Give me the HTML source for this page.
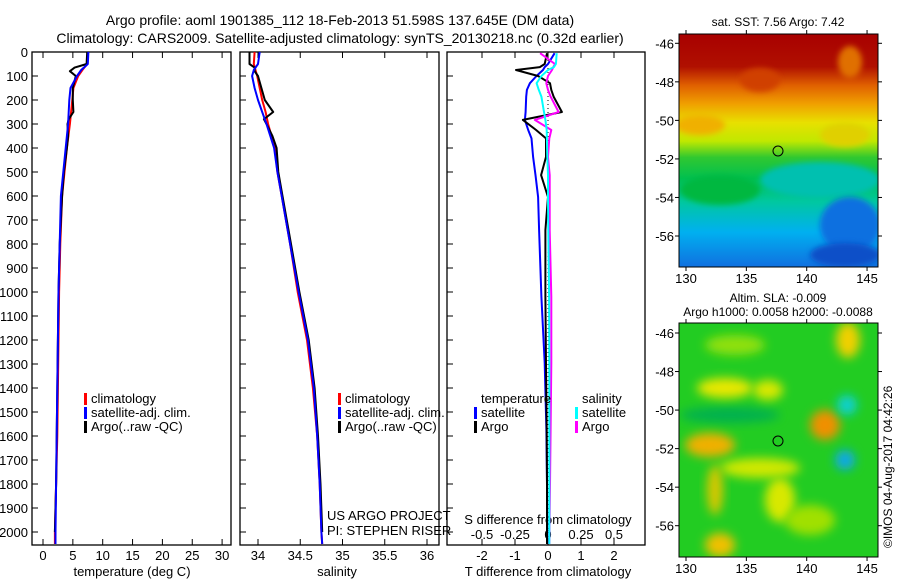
<!DOCTYPE html>
<html><head><meta charset="utf-8"><style>
html,body{margin:0;padding:0;background:#fff;}
svg{display:block;font-family:"Liberation Sans",sans-serif;}
</style></head><body>
<svg id="c" width="900" height="580" viewBox="0 0 900 580">
<defs>
<filter id="bl" x="-50%" y="-50%" width="200%" height="200%"><feGaussianBlur stdDeviation="5"/></filter>
<filter id="bl2" x="-50%" y="-50%" width="200%" height="200%"><feGaussianBlur stdDeviation="3"/></filter>
<clipPath id="m1"><rect x="679" y="34" width="199" height="233"/></clipPath>
<clipPath id="m2"><rect x="679" y="323" width="199" height="234"/></clipPath>
<linearGradient id="sst" x1="0" y1="0" x2="0" y2="1">
<stop offset="0" stop-color="#a80000"/><stop offset="0.14" stop-color="#b01000"/>
<stop offset="0.22" stop-color="#e06000"/><stop offset="0.30" stop-color="#f0a000"/>
<stop offset="0.38" stop-color="#e8e000"/><stop offset="0.46" stop-color="#c0e800"/>
<stop offset="0.53" stop-color="#30c830"/><stop offset="0.62" stop-color="#00c050"/>
<stop offset="0.72" stop-color="#00c8a0"/><stop offset="0.85" stop-color="#00b0f0"/>
<stop offset="1" stop-color="#1070e0"/>
</linearGradient>
</defs>
<text x="340" y="25" font-size="14" text-anchor="middle">Argo profile: aoml 1901385_112 18-Feb-2013 51.598S 137.645E (DM data)</text>
<text x="340" y="43" font-size="14" text-anchor="middle">Climatology: CARS2009. Satellite-adjusted climatology: synTS_20130218.nc (0.32d earlier)</text>
<g id="g"></g>
<g clip-path="url(#m1)">
<rect x="679" y="34" width="199" height="233" fill="url(#sst)"/>
<ellipse cx="700" cy="125" rx="25" ry="10" fill="#f0b000" filter="url(#bl2)"/>
<ellipse cx="845" cy="135" rx="25" ry="12" fill="#e0d000" filter="url(#bl2)"/>
<ellipse cx="820" cy="180" rx="60" ry="18" fill="#00c0b0" filter="url(#bl2)"/>
<ellipse cx="850" cy="225" rx="30" ry="28" fill="#1070e0" filter="url(#bl2)"/>
<ellipse cx="845" cy="255" rx="35" ry="12" fill="#0850c8" filter="url(#bl2)"/>
<ellipse cx="720" cy="190" rx="40" ry="15" fill="#00b840" filter="url(#bl2)"/>
<ellipse cx="760" cy="80" rx="20" ry="12" fill="#d04000" filter="url(#bl2)"/>
<ellipse cx="850" cy="62" rx="12" ry="16" fill="#e07000" filter="url(#bl2)"/>
<circle cx="778" cy="151" r="5" fill="none" stroke="#000"/>
</g>
<rect x="679" y="34" width="199" height="233" fill="none" stroke="#000"/>
<text x="778" y="26" font-size="12" text-anchor="middle">sat. SST: 7.56 Argo: 7.42</text>
<g clip-path="url(#m2)">
<rect x="679" y="323" width="199" height="234" fill="#22cc22"/>
<ellipse cx="730" cy="415" rx="50" ry="8" fill="#00b050" filter="url(#bl)"/>
<ellipse cx="735" cy="345" rx="30" ry="10" fill="#90e010" filter="url(#bl)"/>
<ellipse cx="725" cy="388" rx="28" ry="10" fill="#e8e800" filter="url(#bl)"/>
<ellipse cx="768" cy="390" rx="15" ry="10" fill="#d8e800" filter="url(#bl)"/>
<ellipse cx="710" cy="445" rx="25" ry="12" fill="#f0b000" filter="url(#bl)"/>
<ellipse cx="760" cy="468" rx="40" ry="10" fill="#d0e800" filter="url(#bl)"/>
<ellipse cx="715" cy="490" rx="8" ry="25" fill="#d8c800" filter="url(#bl)"/>
<ellipse cx="780" cy="500" rx="15" ry="22" fill="#d8e800" filter="url(#bl)"/>
<ellipse cx="720" cy="545" rx="15" ry="12" fill="#f0c000" filter="url(#bl)"/>
<ellipse cx="825" cy="425" rx="15" ry="15" fill="#f09000" filter="url(#bl)"/>
<ellipse cx="848" cy="340" rx="12" ry="18" fill="#f0d000" filter="url(#bl)"/>
<ellipse cx="847" cy="405" rx="10" ry="10" fill="#10d0d0" filter="url(#bl)"/>
<ellipse cx="845" cy="460" rx="10" ry="10" fill="#10a8e8" filter="url(#bl)"/>
<ellipse cx="810" cy="520" rx="25" ry="15" fill="#a0e000" filter="url(#bl)"/>
<circle cx="778" cy="441" r="5" fill="none" stroke="#000"/>
</g>
<rect x="679" y="323" width="199" height="234" fill="none" stroke="#000"/>
<text x="778" y="302" font-size="12" text-anchor="middle">Altim. SLA: -0.009</text>
<text x="778" y="316" font-size="12" text-anchor="middle">Argo h1000: 0.0058 h2000: -0.0088</text>
<text transform="translate(892,548) rotate(-90)" font-size="12">©IMOS 04-Aug-2017 04:42:26</text>
</svg>
<script>
var depthTicks=[0,100,200,300,400,500,600,700,800,900,1000,1100,1200,1300,1400,1500,1600,1700,1800,1900,2000];
var tTicks=[0,5,10,15,20,25,30];
var sTicks=[34,34.5,35,35.5,36];
var dTTicks=[-2,-1,0,1,2];
var dSTicks=[-0.5,-0.25,0,0.25,0.5];
var dSTickLabels=["-0.5","-0.25","0","0.25","0.5"];
var profDepth=[0,50,75,100,150,200,250,300,400,500,600,800,1000,1200,1400,1600,1800,2000,2050];
var tClim=[7.5,7.4,6.6,5.9,5.1,4.9,4.7,4.5,4.0,3.6,3.2,2.9,2.7,2.6,2.5,2.4,2.2,2.0,2.0];
var tSat=[7.6,7.5,6.4,5.7,4.6,4.4,4.3,4.2,3.8,3.4,3.0,2.8,2.6,2.5,2.4,2.3,2.2,2.1,2.1];
var argoDepth=[0,50,65,80,100,150,200,250,280,300,350,400,500,600,800,1000,1200,1400,1600,1800,2000];
var tArgo=[7.4,7.3,5.3,4.5,5.5,5.0,5.0,5.1,4.3,4.1,4.2,4.0,3.5,3.2,2.8,2.6,2.5,2.4,2.3,2.2,2.0];
var sClim=[33.96,33.95,33.97,33.99,34.02,34.05,34.09,34.12,34.2,34.23,34.28,34.38,34.47,34.58,34.65,34.7,34.73,34.75,34.76];
var sSat=[34.02,34.0,33.95,33.93,33.96,34.0,34.05,34.1,34.19,34.23,34.28,34.38,34.48,34.59,34.66,34.7,34.73,34.75,34.76];
var sArgo=[33.9,33.9,33.96,33.96,34.0,34.04,34.08,34.18,34.07,34.1,34.17,34.22,34.24,34.29,34.39,34.49,34.6,34.67,34.71,34.74,34.76];
var diffDepth=[5,50,63,75,100,130,158,186,250,283,325,360,437,513,604,742,1020,1296,1575,1800,2050];
var dTSat=[0.2,0.0,-0.1,-0.15,-0.35,-0.55,-0.64,-0.66,-0.68,-0.7,-0.6,-0.5,-0.45,-0.38,-0.3,-0.27,-0.2,-0.1,-0.05,-0.03,-0.02];
var dTArgo=[-0.03,-0.1,-0.25,-0.97,-0.3,0.06,0.1,0.17,0.42,-0.76,-0.36,-0.06,-0.06,-0.21,0.0,-0.08,-0.08,-0.06,-0.04,-0.03,-0.03];
var dSSat=[0.066,0.06,0.045,0.0,-0.05,-0.086,-0.07,-0.05,-0.03,-0.02,-0.01,-0.008,-0.005,0.0,0.0,0.002,0.008,0.01,0.01,0.01,0.01];
var dSArgo=[-0.06,0.053,0.04,0.03,0.0,-0.013,0.0,0.02,0.08,-0.1,0.025,0.01,0.0,0.013,0.013,0.013,0.025,0.025,0.02,0.015,0.01];
var lonTicks=[130,135,140,145];
var latTicks=[-46,-48,-50,-52,-54,-56];

var NS='http://www.w3.org/2000/svg';
var G=document.getElementById('g');
function mk(t,a,p){var e=document.createElementNS(NS,t);for(var k in a)e.setAttribute(k,a[k]);(p||G).appendChild(e);return e;}
function yD(d){return 52+d*0.24;}
var P=[{x0:32,x1:231,f:function(v){return 43+v*5.97;}},{x0:240,x1:439,f:function(v){return 258+(v-34)*84.5;}},{x0:447,x1:645,f:function(v){return 548+v*33;}}];
var fS=function(v){return 548+v*132;};
var names=['temperature','salinity','difference'];
P.forEach(function(p,i){
  var r=mk('rect',{x:p.x0,y:52,width:p.x1-p.x0,height:493,fill:'none',stroke:'#000','stroke-width':1.3});
  
  
  depthTicks.forEach(function(d){
    var l=mk('line',{x1:p.x0,x2:p.x0+6,y1:yD(d),y2:yD(d),stroke:'#000'});
    
    
  });
});
depthTicks.forEach(function(d){
  var t=mk('text',{x:28,y:yD(d)+5,'font-size':13,'text-anchor':'end'});t.textContent=d;
  
  
});
function xt(vals,labels,f,y,top,bot){
  vals.forEach(function(v,k){
    var x=f(v);
    var l1=mk('line',{x1:x,x2:x,y1:top,y2:top+6,stroke:'#000'});
    
    
    var l2=mk('line',{x1:x,x2:x,y1:bot-6,y2:bot,stroke:'#000'});
    
    
    var t=mk('text',{x:x,y:y,'font-size':13,'text-anchor':'middle'});t.textContent=labels[k];
    
    
  });
}
xt(tTicks,tTicks,P[0].f,560,52,545);
xt(sTicks,sTicks,P[1].f,560,52,545);
xt(dTTicks,dTTicks,P[2].f,560,52,545);
dSTicks.forEach(function(v,k){
  var t=mk('text',{x:fS(v),y:539,'font-size':13,'text-anchor':'middle'});t.textContent=dSTickLabels[k];
  
  
});
function lab(x,y,s,n,anch){var t=mk('text',{x:x,y:y,'font-size':13,'text-anchor':anch||'start'});t.textContent=s;
  
  return t;}
lab(132,576,'temperature (deg C)','temperature-axis-title','middle');
lab(337,576,'salinity','salinity-axis-title','middle');
lab(548,576,'T difference from climatology','t-diff-axis-title','middle');
lab(548,524,'S difference from climatology','s-diff-axis-title','middle');
lab(327,520,'US ARGO PROJECT','project-label');
lab(327,535,'PI: STEPHEN RISER','pi-label');
var z=mk('line',{x1:548,x2:548,y1:52,y2:545,stroke:'#000','stroke-dasharray':'1 3'});


function prof(vals,depths,f,col,n){var d='';vals.forEach(function(v,k){d+=(k?'L':'M')+f(v).toFixed(1)+' '+yD(depths[k]).toFixed(1);});
  var e=mk('path',{d:d,fill:'none',stroke:col,'stroke-width':2,'stroke-linejoin':'round'});
  
  }
prof(tClim,profDepth,P[0].f,'#f00','temp-climatology-line');
prof(tArgo,argoDepth,P[0].f,'#000','temp-argo-line');
prof(tSat,profDepth,P[0].f,'#00f','temp-satellite-line');
prof(sClim,profDepth,P[1].f,'#f00','sal-climatology-line');
prof(sArgo,argoDepth,P[1].f,'#000','sal-argo-line');
prof(sSat,profDepth,P[1].f,'#00f','sal-satellite-line');
prof(dTSat,diffDepth,P[2].f,'#00f','t-diff-satellite-line');
prof(dTArgo,diffDepth,P[2].f,'#000','t-diff-argo-line');
prof(dSArgo,diffDepth,fS,'#f0f','s-diff-argo-line');
prof(dSSat,diffDepth,fS,'#0ff','s-diff-satellite-line');
function leg(x,y,col,s,n){var r=mk('rect',{x:x,y:y-10,width:3,height:12,fill:col});
  
  
  lab(x+7,y,s,n);}
leg(84,403,'#f00','climatology','legend-climatology');
leg(84,417,'#00f','satellite-adj. clim.','legend-satellite');
leg(84,431,'#000','Argo(..raw -QC)','legend-argo');
leg(338,403,'#f00','climatology','legend-sal-climatology');
leg(338,417,'#00f','satellite-adj. clim.','legend-sal-satellite');
leg(338,431,'#000','Argo(..raw -QC)','legend-sal-argo');
lab(481,403,'temperature','legend-temperature-heading');
lab(582,403,'salinity','legend-salinity-heading');
leg(474,417,'#00f','satellite','legend-t-satellite');
leg(474,431,'#000','Argo','legend-t-argo');
leg(575,417,'#0ff','satellite','legend-s-satellite');
leg(575,431,'#f0f','Argo','legend-s-argo');
function lonX(v){return 686+(v-130)*12.07;}
[[34,267,43.3],[323,557,333]].forEach(function(m){
  lonTicks.forEach(function(v){var t=mk('text',{x:lonX(v),y:m[1]+16,'font-size':13,'text-anchor':'middle'});t.textContent=v;
    
    
    mk('line',{x1:lonX(v),x2:lonX(v),y1:m[1],y2:m[1]+4,stroke:'#000'});
    mk('line',{x1:lonX(v),x2:lonX(v),y1:m[0],y2:m[0]-4,stroke:'#000'});});
  latTicks.forEach(function(v){var y=m[2]+(-46-v)*19.27;var t=mk('text',{x:674,y:y+5,'font-size':13,'text-anchor':'end'});t.textContent=v;
    
    
    mk('line',{x1:878,x2:882,y1:y,y2:y,stroke:'#000'});
    mk('line',{x1:675,x2:679,y1:y,y2:y,stroke:'#000'});});
});
</script>
</body></html>
